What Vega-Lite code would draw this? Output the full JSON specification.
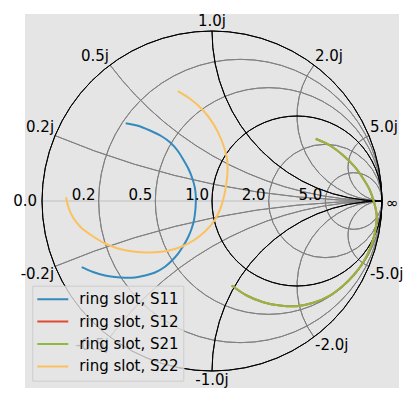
{
  "$schema": "https://vega.github.io/schema/vega-lite/v6.json",
  "width": 374,
  "height": 374,
  "autosize": {"type": "none"},
  "padding": {"left": 25, "top": 14, "right": 20, "bottom": 15},
  "background": "white",
  "config": {
    "view": {"fill": "#E5E5E5", "stroke": null},
    "font": "DejaVu Sans",
    "legend": {
      "orient": "none",
      "legendX": 7.3,
      "legendY": 271.7,
      "title": null,
      "symbolType": "stroke",
      "symbolSize": 961,
      "symbolStrokeWidth": 2,
      "labelFontSize": 15,
      "labelFont": "DejaVu Sans",
      "labelColor": "#000000",
      "padding": 4,
      "clipHeight": 19,
      "rowPadding": 3.4,
      "labelOffset": 10,
      "fillColor": "rgba(229,229,229,0.8)",
      "strokeColor": "#cccccc",
      "cornerRadius": 0
    }
  },
  "datasets": {
    "axisline": [{"x": -1, "x2": 1, "y": 0}],
    "grid": [
      {"name": "r=0.2", "kind": "light", "cx": 0.16667, "cy": 0, "rad": 0.83333, "t0": 0, "t1": 360},
      {"name": "r=0.5", "kind": "light", "cx": 0.33333, "cy": 0, "rad": 0.66667, "t0": 0, "t1": 360},
      {"name": "r=2", "kind": "light", "cx": 0.66667, "cy": 0, "rad": 0.33333, "t0": 0, "t1": 360},
      {"name": "r=5", "kind": "light", "cx": 0.83333, "cy": 0, "rad": 0.16667, "t0": 0, "t1": 360},
      {"name": "x=0.2", "kind": "light", "cx": 1, "cy": 5, "rad": 5, "t0": 180, "t1": 202.62},
      {"name": "x=0.5", "kind": "light", "cx": 1, "cy": 2, "rad": 2, "t0": 180, "t1": 233.13},
      {"name": "x=2", "kind": "light", "cx": 1, "cy": 0.5, "rad": 0.5, "t0": 180, "t1": 306.87},
      {"name": "x=5", "kind": "light", "cx": 1, "cy": 0.2, "rad": 0.2, "t0": 180, "t1": 337.38},
      {"name": "x=-0.2", "kind": "light", "cx": 1, "cy": -5, "rad": 5, "t0": 337.38, "t1": 360},
      {"name": "x=-0.5", "kind": "light", "cx": 1, "cy": -2, "rad": 2, "t0": 306.87, "t1": 360},
      {"name": "x=-2", "kind": "light", "cx": 1, "cy": -0.5, "rad": 0.5, "t0": 233.13, "t1": 360},
      {"name": "x=-5", "kind": "light", "cx": 1, "cy": -0.2, "rad": 0.2, "t0": 202.62, "t1": 360},
      {"name": "r=0", "kind": "heavy", "cx": 0, "cy": 0, "rad": 1, "t0": 0, "t1": 360},
      {"name": "r=1", "kind": "heavy", "cx": 0.5, "cy": 0, "rad": 0.5, "t0": 0, "t1": 360},
      {"name": "x=1", "kind": "heavy", "cx": 1, "cy": 1, "rad": 1, "t0": 180, "t1": 270},
      {"name": "x=-1", "kind": "heavy", "cx": 1, "cy": -1, "rad": 1, "t0": 270, "t1": 360}
    ],
    "traces": [
      {"series": "ring slot, S11", "i": 0, "x": -0.5076, "y": 0.4576},
      {"series": "ring slot, S11", "i": 1, "x": -0.4412, "y": 0.4441},
      {"series": "ring slot, S11", "i": 2, "x": -0.3647, "y": 0.4147},
      {"series": "ring slot, S11", "i": 3, "x": -0.2941, "y": 0.3794},
      {"series": "ring slot, S11", "i": 4, "x": -0.2441, "y": 0.3429},
      {"series": "ring slot, S11", "i": 5, "x": -0.2029, "y": 0.2971},
      {"series": "ring slot, S11", "i": 6, "x": -0.1676, "y": 0.2412},
      {"series": "ring slot, S11", "i": 7, "x": -0.1382, "y": 0.1882},
      {"series": "ring slot, S11", "i": 8, "x": -0.1165, "y": 0.1353},
      {"series": "ring slot, S11", "i": 9, "x": -0.1018, "y": 0.0824},
      {"series": "ring slot, S11", "i": 10, "x": -0.0959, "y": 0.0382},
      {"series": "ring slot, S11", "i": 11, "x": -0.0950, "y": -0.0029},
      {"series": "ring slot, S11", "i": 12, "x": -0.0982, "y": -0.0559},
      {"series": "ring slot, S11", "i": 13, "x": -0.1059, "y": -0.1118},
      {"series": "ring slot, S11", "i": 14, "x": -0.1206, "y": -0.1647},
      {"series": "ring slot, S11", "i": 15, "x": -0.1406, "y": -0.2129},
      {"series": "ring slot, S11", "i": 16, "x": -0.1676, "y": -0.2618},
      {"series": "ring slot, S11", "i": 17, "x": -0.1982, "y": -0.3076},
      {"series": "ring slot, S11", "i": 18, "x": -0.2353, "y": -0.3500},
      {"series": "ring slot, S11", "i": 19, "x": -0.2765, "y": -0.3865},
      {"series": "ring slot, S11", "i": 20, "x": -0.3353, "y": -0.4206},
      {"series": "ring slot, S11", "i": 21, "x": -0.3941, "y": -0.4382},
      {"series": "ring slot, S11", "i": 22, "x": -0.4529, "y": -0.4500},
      {"series": "ring slot, S11", "i": 23, "x": -0.5118, "y": -0.4518},
      {"series": "ring slot, S11", "i": 24, "x": -0.5706, "y": -0.4471},
      {"series": "ring slot, S11", "i": 25, "x": -0.6294, "y": -0.4382},
      {"series": "ring slot, S11", "i": 26, "x": -0.7000, "y": -0.4176},
      {"series": "ring slot, S11", "i": 27, "x": -0.7665, "y": -0.3894},

      {"series": "ring slot, S12", "i": 0, "x": 0.6100, "y": 0.3659},
      {"series": "ring slot, S12", "i": 1, "x": 0.6941, "y": 0.3265},
      {"series": "ring slot, S12", "i": 2, "x": 0.7724, "y": 0.2676},
      {"series": "ring slot, S12", "i": 3, "x": 0.8412, "y": 0.1988},
      {"series": "ring slot, S12", "i": 4, "x": 0.8900, "y": 0.1306},
      {"series": "ring slot, S12", "i": 5, "x": 0.9294, "y": 0.0618},
      {"series": "ring slot, S12", "i": 6, "x": 0.9529, "y": -0.0071},
      {"series": "ring slot, S12", "i": 7, "x": 0.9688, "y": -0.0853},
      {"series": "ring slot, S12", "i": 8, "x": 0.9588, "y": -0.1835},
      {"series": "ring slot, S12", "i": 9, "x": 0.9294, "y": -0.2812},
      {"series": "ring slot, S12", "i": 10, "x": 0.8900, "y": -0.3600},
      {"series": "ring slot, S12", "i": 11, "x": 0.8312, "y": -0.4382},
      {"series": "ring slot, S12", "i": 12, "x": 0.7724, "y": -0.4971},
      {"series": "ring slot, S12", "i": 13, "x": 0.6941, "y": -0.5559},
      {"series": "ring slot, S12", "i": 14, "x": 0.5959, "y": -0.5988},
      {"series": "ring slot, S12", "i": 15, "x": 0.4982, "y": -0.6188},
      {"series": "ring slot, S12", "i": 16, "x": 0.4000, "y": -0.6147},
      {"series": "ring slot, S12", "i": 17, "x": 0.3018, "y": -0.5953},
      {"series": "ring slot, S12", "i": 18, "x": 0.2041, "y": -0.5559},
      {"series": "ring slot, S12", "i": 19, "x": 0.1159, "y": -0.4971},

      {"series": "ring slot, S21", "i": 0, "x": 0.6100, "y": 0.3659},
      {"series": "ring slot, S21", "i": 1, "x": 0.6941, "y": 0.3265},
      {"series": "ring slot, S21", "i": 2, "x": 0.7724, "y": 0.2676},
      {"series": "ring slot, S21", "i": 3, "x": 0.8412, "y": 0.1988},
      {"series": "ring slot, S21", "i": 4, "x": 0.8900, "y": 0.1306},
      {"series": "ring slot, S21", "i": 5, "x": 0.9294, "y": 0.0618},
      {"series": "ring slot, S21", "i": 6, "x": 0.9529, "y": -0.0071},
      {"series": "ring slot, S21", "i": 7, "x": 0.9688, "y": -0.0853},
      {"series": "ring slot, S21", "i": 8, "x": 0.9588, "y": -0.1835},
      {"series": "ring slot, S21", "i": 9, "x": 0.9294, "y": -0.2812},
      {"series": "ring slot, S21", "i": 10, "x": 0.8900, "y": -0.3600},
      {"series": "ring slot, S21", "i": 11, "x": 0.8312, "y": -0.4382},
      {"series": "ring slot, S21", "i": 12, "x": 0.7724, "y": -0.4971},
      {"series": "ring slot, S21", "i": 13, "x": 0.6941, "y": -0.5559},
      {"series": "ring slot, S21", "i": 14, "x": 0.5959, "y": -0.5988},
      {"series": "ring slot, S21", "i": 15, "x": 0.4982, "y": -0.6188},
      {"series": "ring slot, S21", "i": 16, "x": 0.4000, "y": -0.6147},
      {"series": "ring slot, S21", "i": 17, "x": 0.3018, "y": -0.5953},
      {"series": "ring slot, S21", "i": 18, "x": 0.2041, "y": -0.5559},
      {"series": "ring slot, S21", "i": 19, "x": 0.1159, "y": -0.4971},

      {"series": "ring slot, S22", "i": 0, "x": -0.8588, "y": 0.0224},
      {"series": "ring slot, S22", "i": 1, "x": -0.8441, "y": -0.0382},
      {"series": "ring slot, S22", "i": 2, "x": -0.8176, "y": -0.0971},
      {"series": "ring slot, S22", "i": 3, "x": -0.7706, "y": -0.1559},
      {"series": "ring slot, S22", "i": 4, "x": -0.7076, "y": -0.2029},
      {"series": "ring slot, S22", "i": 5, "x": -0.6353, "y": -0.2471},
      {"series": "ring slot, S22", "i": 6, "x": -0.5529, "y": -0.2794},
      {"series": "ring slot, S22", "i": 7, "x": -0.4647, "y": -0.2971},
      {"series": "ring slot, S22", "i": 8, "x": -0.3647, "y": -0.3029},
      {"series": "ring slot, S22", "i": 9, "x": -0.2647, "y": -0.2941},
      {"series": "ring slot, S22", "i": 10, "x": -0.1765, "y": -0.2676},
      {"series": "ring slot, S22", "i": 11, "x": -0.1000, "y": -0.2265},
      {"series": "ring slot, S22", "i": 12, "x": -0.0353, "y": -0.1735},
      {"series": "ring slot, S22", "i": 13, "x": 0.0147, "y": -0.1147},
      {"series": "ring slot, S22", "i": 14, "x": 0.0471, "y": -0.0500},
      {"series": "ring slot, S22", "i": 15, "x": 0.0647, "y": 0.0029},
      {"series": "ring slot, S22", "i": 16, "x": 0.0812, "y": 0.0812},
      {"series": "ring slot, S22", "i": 17, "x": 0.0918, "y": 0.1794},
      {"series": "ring slot, S22", "i": 18, "x": 0.0865, "y": 0.2576},
      {"series": "ring slot, S22", "i": 19, "x": 0.0571, "y": 0.3559},
      {"series": "ring slot, S22", "i": 20, "x": 0.0076, "y": 0.4541},
      {"series": "ring slot, S22", "i": 21, "x": -0.0512, "y": 0.5324},
      {"series": "ring slot, S22", "i": 22, "x": -0.1294, "y": 0.6012},
      {"series": "ring slot, S22", "i": 23, "x": -0.2018, "y": 0.6459}
    ],
    "xlab": [
      {"lab": "0.2j", "x": -0.9231, "y": 0.3846},
      {"lab": "0.5j", "x": -0.6, "y": 0.8},
      {"lab": "1.0j", "x": 0, "y": 1},
      {"lab": "2.0j", "x": 0.6, "y": 0.8},
      {"lab": "5.0j", "x": 0.9231, "y": 0.3846},
      {"lab": "-0.2j", "x": -0.9231, "y": -0.3846},
      {"lab": "-0.5j", "x": -0.6, "y": -0.8},
      {"lab": "-1.0j", "x": 0, "y": -1},
      {"lab": "-2.0j", "x": 0.6, "y": -0.8},
      {"lab": "-5.0j", "x": 0.9231, "y": -0.3846}
    ],
    "rlab": [
      {"lab": "0.2", "x": -0.66667, "y": 0},
      {"lab": "0.5", "x": -0.33333, "y": 0},
      {"lab": "1.0", "x": 0, "y": 0},
      {"lab": "2.0", "x": 0.33333, "y": 0},
      {"lab": "5.0", "x": 0.66667, "y": 0}
    ],
    "ends": [
      {"lab": "0.0", "x": -1, "y": 0},
      {"lab": "∞", "x": 1, "y": 0}
    ]
  },
  "layer": [
    {
      "data": {"name": "axisline"},
      "mark": {"type": "rule", "stroke": "#d2d2d2", "strokeWidth": 2},
      "encoding": {
        "x": {"field": "x", "type": "quantitative", "scale": {"domain": [-1.1, 1.1], "nice": false, "zero": false}, "axis": null},
        "x2": {"field": "x2"},
        "y": {"field": "y", "type": "quantitative", "scale": {"domain": [-1.1, 1.1], "nice": false, "zero": false}, "axis": null}
      }
    },
    {
      "data": {"name": "grid"},
      "transform": [{"filter": "datum.kind == 'light'"}],
      "mark": {"type": "arc", "filled": false, "stroke": "#808080", "strokeWidth": 1},
      "encoding": {
        "x": {"field": "cx", "type": "quantitative", "scale": {"domain": [-1.1, 1.1], "nice": false, "zero": false}, "axis": null},
        "y": {"field": "cy", "type": "quantitative", "scale": {"domain": [-1.1, 1.1], "nice": false, "zero": false}, "axis": null},
        "radius": {"field": "rad", "type": "quantitative", "scale": {"type": "linear", "domain": [0, 1], "range": [0, 170], "zero": true, "nice": false}},
        "radius2": {"field": "rad"},
        "theta": {"field": "t0", "type": "quantitative", "stack": null, "scale": {"type": "linear", "domain": [0, 360], "range": [0, 6.283185307179586]}},
        "theta2": {"field": "t1"}
      }
    },
    {
      "data": {"name": "grid"},
      "transform": [{"filter": "datum.kind == 'heavy'"}],
      "mark": {"type": "arc", "filled": false, "stroke": "#000000", "strokeWidth": 1},
      "encoding": {
        "x": {"field": "cx", "type": "quantitative", "scale": {"domain": [-1.1, 1.1], "nice": false, "zero": false}, "axis": null},
        "y": {"field": "cy", "type": "quantitative", "scale": {"domain": [-1.1, 1.1], "nice": false, "zero": false}, "axis": null},
        "radius": {"field": "rad", "type": "quantitative", "scale": {"type": "linear", "domain": [0, 1], "range": [0, 170], "zero": true, "nice": false}},
        "radius2": {"field": "rad"},
        "theta": {"field": "t0", "type": "quantitative", "stack": null, "scale": {"type": "linear", "domain": [0, 360], "range": [0, 6.283185307179586]}},
        "theta2": {"field": "t1"}
      }
    },
    {
      "data": {"name": "traces"},
      "mark": {"type": "line", "strokeWidth": 2, "interpolate": "catmull-rom"},
      "encoding": {
        "x": {"field": "x", "type": "quantitative", "scale": {"domain": [-1.1, 1.1], "nice": false, "zero": false}, "axis": null},
        "y": {"field": "y", "type": "quantitative", "scale": {"domain": [-1.1, 1.1], "nice": false, "zero": false}, "axis": null},
        "order": {"field": "i", "type": "quantitative"},
        "color": {
          "field": "series", "type": "nominal",
          "scale": {"domain": ["ring slot, S11", "ring slot, S12", "ring slot, S21", "ring slot, S22"], "range": ["#348ABD", "#E24A33", "#8EBA42", "#FBC15E"]},
          "legend": {"title": null}
        }
      }
    },
    {
      "data": {"name": "xlab"},
      "transform": [{"filter": "datum.x < -0.01 && datum.y > 0"}],
      "mark": {"type": "text", "align": "right", "baseline": "bottom", "dx": -1, "dy": -1, "fontSize": 15, "font": "DejaVu Sans", "color": "#000000"},
      "encoding": {
        "x": {"field": "x", "type": "quantitative", "scale": {"domain": [-1.1, 1.1], "nice": false, "zero": false}, "axis": null},
        "y": {"field": "y", "type": "quantitative", "scale": {"domain": [-1.1, 1.1], "nice": false, "zero": false}, "axis": null},
        "text": {"field": "lab"}
      }
    },
    {
      "data": {"name": "xlab"},
      "transform": [{"filter": "datum.x > 0.01 && datum.y > 0"}],
      "mark": {"type": "text", "align": "left", "baseline": "bottom", "dx": 1, "dy": -1, "fontSize": 15, "font": "DejaVu Sans", "color": "#000000"},
      "encoding": {
        "x": {"field": "x", "type": "quantitative", "scale": {"domain": [-1.1, 1.1], "nice": false, "zero": false}, "axis": null},
        "y": {"field": "y", "type": "quantitative", "scale": {"domain": [-1.1, 1.1], "nice": false, "zero": false}, "axis": null},
        "text": {"field": "lab"}
      }
    },
    {
      "data": {"name": "xlab"},
      "transform": [{"filter": "abs(datum.x) <= 0.01 && datum.y > 0"}],
      "mark": {"type": "text", "align": "center", "baseline": "bottom", "dy": -2, "fontSize": 15, "font": "DejaVu Sans", "color": "#000000"},
      "encoding": {
        "x": {"field": "x", "type": "quantitative", "scale": {"domain": [-1.1, 1.1], "nice": false, "zero": false}, "axis": null},
        "y": {"field": "y", "type": "quantitative", "scale": {"domain": [-1.1, 1.1], "nice": false, "zero": false}, "axis": null},
        "text": {"field": "lab"}
      }
    },
    {
      "data": {"name": "xlab"},
      "transform": [{"filter": "datum.x < -0.01 && datum.y < 0"}],
      "mark": {"type": "text", "align": "right", "baseline": "top", "dx": -1, "dy": 1, "fontSize": 15, "font": "DejaVu Sans", "color": "#000000"},
      "encoding": {
        "x": {"field": "x", "type": "quantitative", "scale": {"domain": [-1.1, 1.1], "nice": false, "zero": false}, "axis": null},
        "y": {"field": "y", "type": "quantitative", "scale": {"domain": [-1.1, 1.1], "nice": false, "zero": false}, "axis": null},
        "text": {"field": "lab"}
      }
    },
    {
      "data": {"name": "xlab"},
      "transform": [{"filter": "datum.x > 0.01 && datum.y < 0"}],
      "mark": {"type": "text", "align": "left", "baseline": "top", "dx": 1, "dy": 1, "fontSize": 15, "font": "DejaVu Sans", "color": "#000000"},
      "encoding": {
        "x": {"field": "x", "type": "quantitative", "scale": {"domain": [-1.1, 1.1], "nice": false, "zero": false}, "axis": null},
        "y": {"field": "y", "type": "quantitative", "scale": {"domain": [-1.1, 1.1], "nice": false, "zero": false}, "axis": null},
        "text": {"field": "lab"}
      }
    },
    {
      "data": {"name": "xlab"},
      "transform": [{"filter": "abs(datum.x) <= 0.01 && datum.y < 0"}],
      "mark": {"type": "text", "align": "center", "baseline": "top", "dy": 2, "fontSize": 15, "font": "DejaVu Sans", "color": "#000000"},
      "encoding": {
        "x": {"field": "x", "type": "quantitative", "scale": {"domain": [-1.1, 1.1], "nice": false, "zero": false}, "axis": null},
        "y": {"field": "y", "type": "quantitative", "scale": {"domain": [-1.1, 1.1], "nice": false, "zero": false}, "axis": null},
        "text": {"field": "lab"}
      }
    },
    {
      "data": {"name": "rlab"},
      "mark": {"type": "text", "align": "right", "baseline": "alphabetic", "dx": -3, "dy": -1, "fontSize": 15, "font": "DejaVu Sans", "color": "#000000"},
      "encoding": {
        "x": {"field": "x", "type": "quantitative", "scale": {"domain": [-1.1, 1.1], "nice": false, "zero": false}, "axis": null},
        "y": {"field": "y", "type": "quantitative", "scale": {"domain": [-1.1, 1.1], "nice": false, "zero": false}, "axis": null},
        "text": {"field": "lab"}
      }
    },
    {
      "data": {"name": "ends"},
      "transform": [{"filter": "datum.x < 0"}],
      "mark": {"type": "text", "align": "right", "baseline": "middle", "dx": -5, "fontSize": 15, "font": "DejaVu Sans", "color": "#000000"},
      "encoding": {
        "x": {"field": "x", "type": "quantitative", "scale": {"domain": [-1.1, 1.1], "nice": false, "zero": false}, "axis": null},
        "y": {"field": "y", "type": "quantitative", "scale": {"domain": [-1.1, 1.1], "nice": false, "zero": false}, "axis": null},
        "text": {"field": "lab"}
      }
    },
    {
      "data": {"name": "ends"},
      "transform": [{"filter": "datum.x > 0"}],
      "mark": {"type": "text", "align": "left", "baseline": "middle", "dx": 4, "dy": 2, "fontSize": 15, "font": "DejaVu Sans", "color": "#000000"},
      "encoding": {
        "x": {"field": "x", "type": "quantitative", "scale": {"domain": [-1.1, 1.1], "nice": false, "zero": false}, "axis": null},
        "y": {"field": "y", "type": "quantitative", "scale": {"domain": [-1.1, 1.1], "nice": false, "zero": false}, "axis": null},
        "text": {"field": "lab"}
      }
    }
  ]
}
